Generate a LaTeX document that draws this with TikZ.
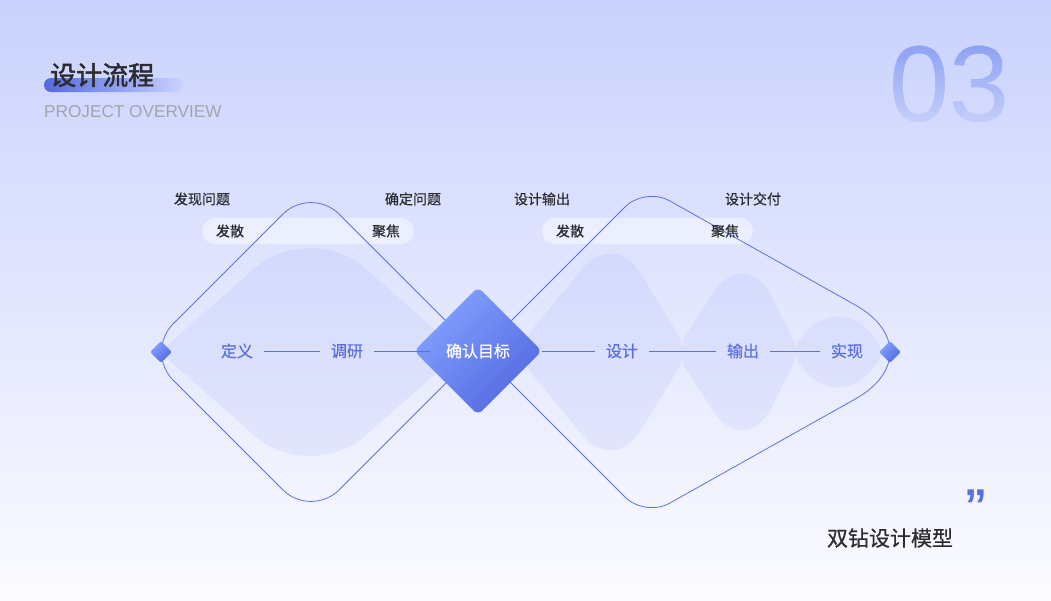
\documentclass[tikz,border=0pt]{standalone}
\usepackage{fontspec}
\setmainfont{Liberation Sans}
\newfontfamily\cjk[FakeBold=0.6]{Noto Sans CJK SC}
\newfontfamily\cjkhead[FakeBold=1.8]{Noto Sans CJK SC}
\usetikzlibrary{shapes.geometric}

\definecolor{bgtop}{HTML}{CAD2FD}
\definecolor{bgbot}{HTML}{FBFBFF}
\definecolor{rimblue}{HTML}{5B70E6}
\definecolor{gemlight}{HTML}{82A2FF}
\definecolor{gemdark}{HTML}{5468E0}
\definecolor{lblblue}{HTML}{5B6FE2}
\definecolor{lbldark}{HTML}{2B2B30}
\definecolor{engray}{HTML}{A4A4AC}
\definecolor{numtop}{HTML}{8AA0F3}
\definecolor{numbot}{HTML}{CCD4FB}
\definecolor{stagefill}{HTML}{7388F0}

\tikzset{
  gem/.style={diamond, aspect=1, inner sep=0pt, top color=gemlight, bottom color=gemdark, shading angle=45},
  stage/.style={fill=stagefill, fill opacity=0.1},
  rim/.style={draw=rimblue, line width=0.8pt},
  pill/.style={fill=white, fill opacity=0.45, rounded corners=13pt},
  steplbl/.style={font=\cjk\fontsize{16}{16}\selectfont, text=lblblue, inner sep=0pt, inner xsep=11pt},
  phase/.style={font=\cjk\fontsize{14}{14}\selectfont, text=lbldark, inner sep=0pt},
  digits/.style={font=\fontsize{108}{108}\selectfont, inner sep=0pt},
}

\begin{document}
\begin{tikzpicture}[x=1pt, y=-1pt]
  \shade[top color=bgtop, bottom color=bgbot] (0,0) rectangle (1051,600);
  \useasboundingbox (0,0) rectangle (1051,600);

  % heading
  \shade[left color=gemdark, right color=bgtop, rounded corners=7pt] (44,78) rectangle (183,92);
  \node[font=\cjkhead\fontsize{26}{26}\selectfont, text=lbldark, anchor=west, inner sep=0pt] (ttl) at (50,75) {设计流程};
  \node[font=\fontsize{17.2}{17.2}\selectfont, text=engray, anchor=west, inner sep=0pt] (sub) at (44,112) {PROJECT OVERVIEW};
  % fading number, strip by strip
  \foreach \k in {0,...,19} {
    \pgfmathtruncatemacro\pct{100-\k*5}
    \begin{scope}
      \clip (880,{40+\k*4.5}) rectangle (1020,{45.5+\k*4.5});
      \node[digits, text=numtop!\pct!numbot] at (950,84) {03};
    \end{scope}
  }

  % stages
  \fill[stage] (160,352) -- (255,268) .. controls (285,241.5) and (335,241.5) .. (365,268) -- (460,352) -- (365,436) .. controls (335,462.5) and (285,462.5) .. (255,436) -- cycle;
  \fill[stage] (533,328.8) -- (582.3,268.7) .. controls (599.8,247.3) and (625.7,249.1) .. (640.1,272.7)
    -- (678.1,334.9) .. controls (683.8,344.4) and (683.8,359.6) .. (678.1,369.1)
    -- (640.1,431.3) .. controls (625.7,454.9) and (599.8,456.7) .. (582.3,435.3)
    -- (533,375.2) .. controls (522.5,362.4) and (522.5,341.6) .. (533,328.8) -- cycle;
  \fill[stage] (686,335.2) -- (712.6,293.8) .. controls (730.5,265.9) and (757,267.4) .. (771.8,297)
    -- (792.1,337.7) .. controls (796.1,345.6) and (796.1,358.4) .. (792.1,366.3)
    -- (771.8,407) .. controls (757,436.6) and (730.5,438.1) .. (712.6,410.2)
    -- (686,368.8) .. controls (680.1,359.6) and (680.1,344.4) .. (686,335.2) -- cycle;
  \fill[stage] (800,339.1) -- (808.5,329.9) .. controls (824.8,312.3) and (851.2,312.3) .. (867.5,329.9)
    -- (876,339.1) .. controls (882.6,346.2) and (882.6,357.8) .. (876,364.9)
    -- (867.5,374.1) .. controls (851.2,391.7) and (824.8,391.7) .. (808.5,374.1)
    -- (800,364.9) .. controls (793.4,357.8) and (793.4,346.2) .. (800,339.1) -- cycle;

  \fill[pill] (202,218) rectangle (414,244);
  \fill[pill] (542,218) rectangle (753,244);

  % the two diamonds
  \draw[rim, rounded corners=40pt] (145,352) -- (311,186) -- (477,352) -- (311,518) -- cycle;
  \draw[rim] (480,352) -- (625.2,206.8) .. controls (636.1,195.9) and (655.9,193.1) .. (669.4,200.7)
    -- (855.3,305) .. controls (901.5,330.9) and (901.5,373.1) .. (855.3,399)
    -- (669.4,503.3) .. controls (655.9,510.9) and (636.1,508.1) .. (625.2,497.2) -- cycle;

  \node[phase] (faxian) at (202,199) {发现问题};
  \node[phase] (queding) at (413,199) {确定问题};
  \node[phase] (shuchuA) at (542,199) {设计输出};
  \node[phase] (jiaofu) at (753,199) {设计交付};
  \node[phase] (fasanA) at (230,231) {发散};
  \node[phase] (jujiaoA) at (386,231) {聚焦};
  \node[phase] (fasanB) at (570,231) {发散};
  \node[phase] (jujiaoB) at (725,231) {聚焦};

  \node[gem, minimum size=22pt, rounded corners=2pt] (lgem) at (161,352) {};
  \node[gem, minimum size=22pt, rounded corners=2pt] (rgem) at (890,352) {};
  \node[gem, minimum size=128pt, rounded corners=6pt, text=white, font=\cjk\fontsize{16}{16}\selectfont] (goal) at (478,351) {确认目标};

  \node[steplbl] (dingyi) at (237,351) {定义};
  \node[steplbl] (diaoyan) at (347,351) {调研};
  \node[steplbl] (sheji) at (622,351) {设计};
  \node[steplbl] (shuchu) at (743,351) {输出};
  \node[steplbl] (shixian) at (847,351) {实现};

  \path[draw=rimblue, line width=0.8pt]
  (dingyi) edge (diaoyan)
  (diaoyan) edge[shorten >=-16pt] (goal)
  (goal) edge (sheji)
  (sheji) edge (shuchu)
  (shuchu) edge (shixian);

  \node[font=\bfseries\fontsize{46}{46}\selectfont, text=lblblue, anchor=base, inner sep=0pt] (qt) at (976,521) {”};
  \node[font=\cjk\fontsize{21}{21}\selectfont, text=lbldark, inner sep=0pt] (moxing) at (890,538) {双钻设计模型};
\end{tikzpicture}
\end{document}
